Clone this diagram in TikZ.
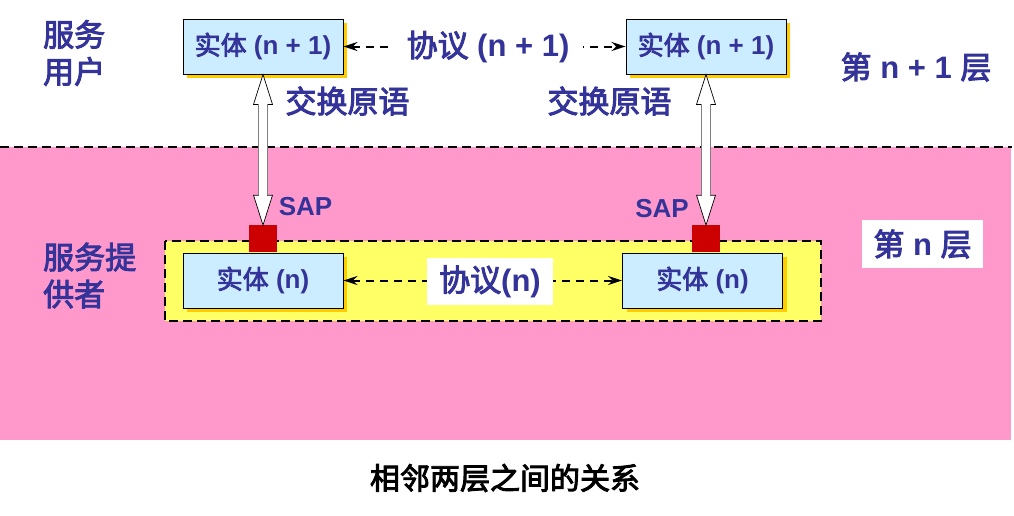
\documentclass[tikz,border=0pt]{standalone}
\usepackage{fontspec}
\setmainfont{Liberation Sans}
\newfontfamily\cjk{Noto Sans CJK SC}[BoldFont={Noto Sans CJK SC}, BoldFeatures={FakeBold=3}]
\usetikzlibrary{arrows.meta,shadows,calc}
\definecolor{txtblue}{HTML}{333399}
\definecolor{pinkbg}{HTML}{FF99CC}
\definecolor{yellowbg}{HTML}{FFFF66}
\definecolor{boxblue}{HTML}{CCECFF}
\definecolor{shadowgold}{HTML}{FFCC00}
\definecolor{sapred}{HTML}{CC0000}
\tikzset{
  entity/.style={draw=black, line width=0.9pt, fill=boxblue, minimum width=160pt,
    minimum height=55pt, inner sep=0pt, text=txtblue,
    font=\bfseries\fontsize{26}{30}\selectfont,
    drop shadow={shadow xshift=4pt, shadow yshift=-4pt, fill=shadowgold, opacity=1}},
  biglabel/.style={text=txtblue, font=\bfseries\fontsize{31}{36}\selectfont, inner sep=0pt},
  cjklabel/.style={biglabel, font=\cjk\bfseries\fontsize{31}{37}\selectfont},
  saplabel/.style={text=txtblue, font=\bfseries\fontsize{26}{30}\selectfont, inner sep=0pt},
  sapbox/.style={fill=sapred, minimum width=28pt, minimum height=27pt, inner sep=0pt},
  protline/.style={black, line width=2pt, dash pattern=on 8pt off 6pt,
    {Stealth[length=14pt,width=9pt]}-{Stealth[length=14pt,width=9pt]}},
  whitebox/.style={fill=white, inner sep=0pt},
  dblhead/.style={fill=white, draw=black, line width=0.7pt, line join=miter},
  dblside/.style={draw=gray, line width=1.8pt},
}
\newcommand\dblarr[2]{%
  \path[dblhead] let \p1=(#1), \p2=(#2) in
    (\x1,\y1) -- (\x1+9.5pt,\y1-30pt) -- (\x1+4.5pt,\y1-30pt) -- (\x1+4.5pt,\y2+30pt)
    -- (\x1+9.5pt,\y2+30pt) -- (\x1,\y2) -- (\x1-9.5pt,\y2+30pt) -- (\x1-4.5pt,\y2+30pt)
    -- (\x1-4.5pt,\y1-30pt) -- (\x1-9.5pt,\y1-30pt) -- cycle;
  \path[dblside] let \p1=(#1), \p2=(#2) in
    (\x1+4.5pt,\y1-30pt) -- (\x1+4.5pt,\y2+30pt)
    (\x1-4.5pt,\y1-30pt) -- (\x1-4.5pt,\y2+30pt);
}
\begin{document}
\begin{tikzpicture}[x=1pt,y=-1pt]
\useasboundingbox (0,0) rectangle (1014,515);
% layer n background
\fill[pinkbg] (0,147) rectangle (1011,440);
\draw[black, line width=1.6pt, dash pattern=on 9pt off 5pt] (0,147) -- (1012,147);
\draw[fill=yellowbg, draw=black, line width=1.6pt, dash pattern=on 9pt off 5pt] (165,241) rectangle (821,321);

% entities
\node[entity] (ut1) at (263,46.5) {{\cjk 实体} (n + 1)};
\node[entity] (ut2) at (706,46.5) {{\cjk 实体} (n + 1)};
\node[entity] (le1) at (263,280.5) {{\cjk 实体} (n)};
\node[entity] (le2) at (702.5,280.5) {{\cjk 实体} (n)};

% SAPs
\node[sapbox, anchor=south] (sap1) at (ut1.south |- le1.north) {};
\node[sapbox, anchor=south] (sap2) at (ut2.south |- le2.north) {};

% primitive exchange arrows
\dblarr{ut1.south}{sap1.north}
\dblarr{ut2.south}{sap2.north}

% protocol arrows
\draw[protline] (ut1.east) -- (ut2.west);
\node[biglabel, whitebox, minimum width=190pt, minimum height=36pt] (p1) at (488,47) {{\cjk 协议} (n + 1)};
\draw[protline] (le1.east) -- (le2.west);
\node[biglabel, whitebox, minimum width=126pt, minimum height=47pt] (p0) at (490,281.5) {{\cjk 协议}(n)};

% labels
\node[cjklabel] (xh1) at (347.5,101) {交换原语};
\node[cjklabel] (xh2) at (609.5,101) {交换原语};
\node[saplabel] (s1) at (305.5,207) {SAP};
\node[saplabel] (s2) at (662,209) {SAP};
\node[cjklabel, align=left, anchor=west] (user) at (43,53) {服务\\用户};
\node[cjklabel, align=left, anchor=west] (prov) at (43,275.5) {服务提\\供者};
\node[biglabel] (ln1) at (916,67) {{\cjk 第} n + 1 {\cjk 层}};
\node[biglabel, whitebox, minimum width=121pt, minimum height=48pt] (ln0) at (922.5,244) {{\cjk 第} n {\cjk 层}};
\node[cjklabel, text=black, font=\cjk\bfseries\fontsize{30}{36}\selectfont] (cap) at (505,478) {相邻两层之间的关系};
\end{tikzpicture}
\end{document}
